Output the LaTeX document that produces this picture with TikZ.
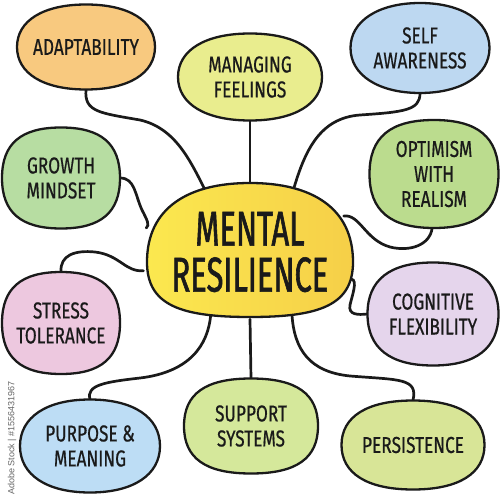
\documentclass[tikz,border=0pt]{standalone}
\usepackage{fontspec}
\setmainfont{Fira Sans}
\newfontfamily\hand[FakeStretch=0.75,FakeBold=0.6]{Fira Sans}
\newfontfamily\handbig[FakeStretch=0.63,FakeBold=1.2]{Fira Sans}
\newfontfamily\wmfont{Liberation Sans}
\usetikzlibrary{shapes.geometric,backgrounds}
\definecolor{adaptc}{HTML}{F8C97F}
\definecolor{managec}{HTML}{E9ED8E}
\definecolor{selfc}{HTML}{BDD8F1}
\definecolor{growthc}{HTML}{B7DDA2}
\definecolor{optc}{HTML}{BBDC8E}
\definecolor{stressc}{HTML}{EDC8DF}
\definecolor{cogc}{HTML}{E5D5EC}
\definecolor{purpc}{HTML}{BDDDF5}
\definecolor{suppc}{HTML}{D5E89B}
\definecolor{persc}{HTML}{D8E597}
\definecolor{menl}{HTML}{FBE84F}
\definecolor{menr}{HTML}{F6CF48}
\definecolor{inkc}{HTML}{1A1A1A}
% superellipse-like blob: #1 centre, #2 rx, #3 ry, #4 control factor, #5 fill
\newcommand\blobshape[5]{%
  \filldraw[blobline, fill=#5, shift={(#1)}]
    (#2,0) .. controls (#2,-#4*#3) and (#4*#2,-#3) .. (0,-#3)
    .. controls (-#4*#2,-#3) and (-#2,-#4*#3) .. (-#2,0)
    .. controls (-#2,#4*#3) and (-#4*#2,#3) .. (0,#3)
    .. controls (#4*#2,#3) and (#2,#4*#3) .. cycle;}
\begin{document}
\begin{tikzpicture}[x=1pt,y=-1pt,
  blobline/.style={draw=inkc, line width=2.3pt, line join=round},
  lbl/.style={ellipse, inner sep=0pt, align=center,
    text=inkc, font=\hand\fontsize{23}{25}\selectfont},
  link/.style={draw=inkc, line width=2.7pt, line cap=round}]
\useasboundingbox (0,0) rectangle (500,494);

% central blob
\filldraw[blobline, left color=menl, right color=menr]
  (353,262) .. controls (353,208) and (312,183) .. (250,183)
  .. controls (188,183) and (147,208) .. (147,262)
  .. controls (147,305) and (180,317) .. (250,317)
  .. controls (320,317) and (353,305) .. cycle;
\node[lbl, minimum width=206pt, minimum height=134pt,
  font=\handbig\fontsize{49}{46}\selectfont] (mental) at (250,252) {MENTAL\\RESILIENCE};

\blobshape{86,47}{69}{42.5}{0.62}{adaptc}
\node[lbl, minimum width=138pt, minimum height=85pt] (adapt) at (86,47) {ADAPTABILITY};
\blobshape{250,77}{72}{43.5}{0.62}{managec}
\node[lbl, minimum width=144pt, minimum height=87pt] (manage) at (250,77) {MANAGING\\FEELINGS};
\blobshape{420,48}{69.5}{45}{0.6}{selfc}
\node[lbl, minimum width=139pt, minimum height=90pt] (self) at (420,48) {SELF\\AWARENESS};
\blobshape{61,178}{59}{50.5}{0.68}{growthc}
\node[lbl, minimum width=118pt, minimum height=101pt] (growth) at (61,178) {GROWTH\\MINDSET};
\blobshape{434,174}{64.5}{54}{0.68}{optc}
\node[lbl, minimum width=129pt, minimum height=108pt] (opt) at (434,174) {OPTIMISM\\WITH\\REALISM};
\blobshape{61,323}{59}{51}{0.68}{stressc}
\node[lbl, minimum width=118pt, minimum height=102pt] (stress) at (61,323) {STRESS\\TOLERANCE};
\blobshape{433,314}{65.5}{51.5}{0.66}{cogc}
\node[lbl, minimum width=131pt, minimum height=103pt] (cog) at (433,314) {COGNITIVE\\FLEXIBILITY};
\blobshape{90,446}{70}{46.5}{0.62}{purpc}
\node[lbl, minimum width=140pt, minimum height=93pt] (purp) at (90,446) {PURPOSE \&\\MEANING};
\blobshape{251,426}{67}{47.5}{0.68}{suppc}
\node[lbl, minimum width=134pt, minimum height=95pt] (supp) at (251,426) {SUPPORT\\SYSTEMS};
\blobshape{413,445}{71.5}{44.5}{0.64}{persc}
\node[lbl, minimum width=143pt, minimum height=89pt] (pers) at (413,445) {PERSISTENCE};

\node[rotate=90, text=black!60, font=\wmfont\fontsize{9}{10}\selectfont, inner sep=0pt] (wm) at (12,438) {Adobe Stock | \#1556431967};

\begin{pgfonlayer}{background}
\fill[white] (0,0) rectangle (500,494);
\draw[link] (adapt.south) .. controls (84,112) and (100,113) .. (140,120)
  .. controls (175,128) and (190,160) .. (mental.126);
\draw[link] (manage.south) -- (mental.north);
\draw[link] (self.south) .. controls (420,110) and (405,112) .. (360,115)
  .. controls (320,118) and (305,150) .. (mental.55);
\draw[link] (growth.east) .. controls (135,178) and (135,195) .. (142,210)
  .. controls (147,220) and (150,225) .. (mental.167);
\draw[link] (mental.21) .. controls (360,214) and (365,240) .. (390,247)
  .. controls (410,252) and (430,245) .. (opt.-92);
\draw[link] (stress.north) .. controls (60,255) and (75,250) .. (95,252)
  .. controls (120,255) and (125,272) .. (mental.190);
\draw[link] (mental.-15) .. controls (358,280) and (352,296) .. (350,305)
  .. controls (348,315) and (358,315) .. (cog.west);
\draw[link] (mental.-122) .. controls (208,345) and (190,372) .. (140,378)
  .. controls (105,382) and (86,385) .. (purp.north);
\draw[link] (mental.south) -- (supp.north);
\draw[link] (mental.-56) .. controls (294,350) and (310,372) .. (350,376)
  .. controls (400,380) and (418,378) .. (pers.north);
\end{pgfonlayer}
\end{tikzpicture}
\end{document}
